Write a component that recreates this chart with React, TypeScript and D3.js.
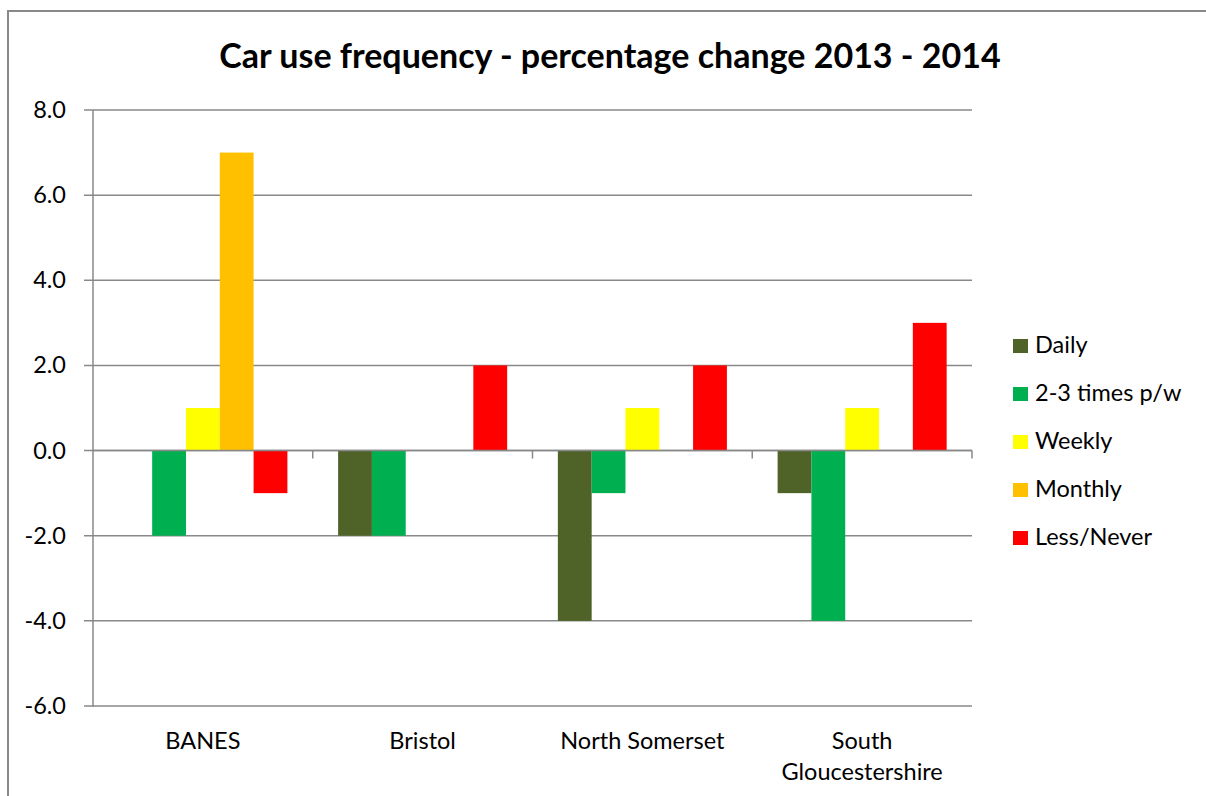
import React from "react";
import * as d3 from "d3";

const categories = ["BANES", "Bristol", "North Somerset", "South Gloucestershire"];
const seriesNames = ["Daily", "2-3 times p/w", "Weekly", "Monthly", "Less/Never"];
const seriesColors = ["#4F6228", "#00B050", "#FFFF00", "#FFC000", "#FF0000"];
const daily = [0, -2, -4, -1];
const twoThree = [-2, -2, -1, -4];
const weekly = [1, 0, 1, 1];
const monthly = [7, 0, 0, 0];
const lessNever = [-1, 2, 2, 3];
const yTicks = [-6, -4, -2, 0, 2, 4, 6, 8];
const title = "Car use frequency - percentage change 2013 - 2014";

const seriesValues = [daily, twoThree, weekly, monthly, lessNever];

export default function App() {
  const W = 1206, H = 796;
  const left = 93, right = 972, top = 110, bottom = 706;
  const y = d3.scaleLinear().domain([-6, 8]).range([bottom, top]);
  const x = d3.scaleBand<string>().domain(categories).range([left, right]).padding(0);
  const bw = x.bandwidth();
  const barW = bw / 6.5;
  const inner = d3.scaleBand<string>().domain(seriesNames).range([barW * 0.75, bw - barW * 0.75]).padding(0);
  const font = "Lato, 'Noto Sans', sans-serif";
  const grid = "#898989";
  return (
    <svg width={W} height={H} style={{ position: "absolute", left: 0, top: 0, background: "#fff" }} fontFamily={font}>
      <rect x={8} y={11} width={W} height={H} fill="#fff" stroke={grid} strokeWidth={2} />
      <text x={610} y={68} textAnchor="middle" fontWeight="bold" fontSize={34} fill="#000">{title}</text>
      {yTicks.map((t) => (
        <g key={t}>
          <line x1={84} x2={right} y1={y(t)} y2={y(t)} stroke={grid} strokeWidth={1.5} />
          <text x={66} y={y(t) + 8} textAnchor="end" fontSize={23.5}>{t.toFixed(1)}</text>
        </g>
      ))}
      <line x1={left} x2={left} y1={top} y2={bottom + 1} stroke={grid} strokeWidth={1.5} />
      {categories.map((c, i) =>
        seriesValues.map((vals, s) => {
          const v = vals[i];
          if (v === 0) return null;
          const x0 = (x(c) as number) + (inner(seriesNames[s]) as number);
          return (
            <rect key={c + s} x={x0} width={inner.bandwidth()} y={y(Math.max(0, v))} height={Math.abs(y(v) - y(0))} fill={seriesColors[s]} />
          );
        })
      )}
      <line x1={left} x2={right} y1={y(0)} y2={y(0)} stroke={grid} strokeWidth={1.5} />
      {categories.map((c) => (
        <line key={c} x1={(x(c) as number) + bw} x2={(x(c) as number) + bw} y1={y(0)} y2={y(0) + 8} stroke={grid} strokeWidth={1.5} />
      ))}
      {categories.map((c) => {
        const cx = (x(c) as number) + bw / 2;
        const lines = c === "South Gloucestershire" ? ["South", "Gloucestershire"] : [c];
        return (
          <text key={c} x={cx} textAnchor="middle" fontSize={23.5}>
            {lines.map((l, k) => (
              <tspan key={k} x={cx} y={749 + k * 31}>{l}</tspan>
            ))}
          </text>
        );
      })}
      {seriesNames.map((n, s) => (
        <g key={n} transform={`translate(1013, ${353 + s * 48})`}>
          <rect x={0} y={-14} width={15} height={14} fill={seriesColors[s]} />
          <text x={22} y={0} fontSize={23.5}>{n}</text>
        </g>
      ))}
    </svg>
  );
}
